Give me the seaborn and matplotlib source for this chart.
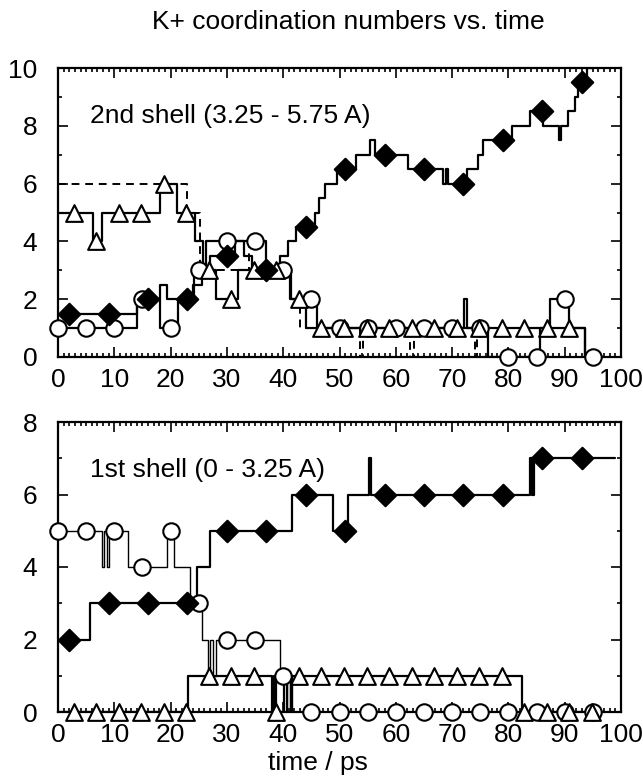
import numpy as np
import pandas as pd
import matplotlib
matplotlib.use("Agg")
import matplotlib.pyplot as plt
import seaborn as sns
from matplotlib.ticker import MultipleLocator

sns.set_theme(style="ticks")
plt.rcParams['font.family'] = ['Liberation Sans', 'DejaVu Sans']
plt.rcParams['text.color'] = 'black'
plt.rcParams['axes.labelcolor'] = 'black'
plt.rcParams['xtick.color'] = 'black'
plt.rcParams['ytick.color'] = 'black'

# ---------------- 2nd shell (top panel) ----------------
top_dia_t = [0, 14, 18.1, 19.3, 24, 25.5, 27, 31.5, 33, 34.5, 39.4, 40.8, 42.3, 45.6, 46.3, 47.5, 49.5, 53,
             55.4, 56.3, 62.2, 68.4, 68.9, 69.3, 72.6, 74.6, 75.5, 80.6, 83.8, 86.2, 89, 89.4, 90.6, 91.8,
             92.4, 94, 95]
top_dia_v = [1.5, 2, 2.5, 2, 2.5, 3, 3.5, 4, 3.5, 3, 3.5, 4, 4.5, 5, 5.5, 6, 6.5, 7,
             7.5, 7, 6.5, 6, 6.5, 6, 6.5, 7, 7.5, 8, 8.5, 8, 7.5, 8, 8.5, 9,
             9.5, 10, 10]
top_circ_t = [0, 14, 18.1, 21.4, 24.1, 26.2, 37, 41.4, 46, 72.2, 72.6, 76.4, 85.6, 87.4, 90.7, 93.6, 97]
top_circ_v = [1, 2, 1, 2, 3, 4, 3, 2, 1, 2, 1, 0, 1, 2, 1, 0, 0]
top_tri_t = [0, 6.3, 7.8, 18.1, 21.1, 24.3, 25.8, 28, 32, 41.2, 44, 93.6, 97]
top_tri_v = [5, 4, 5, 6, 5, 4, 3, 2, 3, 2, 1, 0, 0]
top_dash_t = [0, 23, 25.2, 34, 37, 41.2, 43, 53.6, 54.2, 62.6, 63.2, 74, 74.5, 76.4, 80]
top_dash_v = [6, 5, 3, 4, 3, 2, 1, 0, 1, 0, 1, 0, 1, 0, 0]

# marker samples
dia_mark_t = [2, 9, 16, 23, 30, 37, 44, 51, 58, 65, 72, 79, 86, 93]
top_dia_mark_v = [1.5, 1.5, 2, 2, 3.5, 3, 4.5, 6.5, 7, 6.5, 6, 7.5, 8.5, 9.5]
circ_mark_t = [0, 5, 10, 15, 20, 25, 30, 35, 40, 45, 50, 55, 60, 65, 70, 75, 80, 85, 90, 95]
top_circ_mark_v = [1, 1, 1, 2, 1, 3, 4, 4, 3, 2, 1, 1, 1, 1, 1, 1, 0, 0, 2, 0]
top_tri_mark_t = [2.8, 6.8, 10.8, 14.8, 18.8, 22.8, 26.8, 30.8, 34.8, 38.8, 42.8, 46.8,
                  50.8, 54.8, 58.8, 62.8, 66.8, 70.8, 74.8, 78.8, 82.8, 86.8, 90.8]
top_tri_mark_v = [5, 4, 5, 5, 6, 5, 3, 2, 3, 3, 2, 1,
                  1, 1, 1, 1, 1, 1, 1, 1, 1, 1, 1]

# ---------------- 1st shell (bottom panel) ----------------
bot_dia_t = [0, 5.7, 24.7, 27, 41.5, 48.9, 51.5, 55.2, 55.6, 83.8, 84.2, 84.6, 99]
bot_dia_v = [2, 3, 4, 5, 6, 5, 6, 7, 6, 7, 6, 7, 7]
bot_circ_t = [0, 7.8, 8.2, 8.7, 9.1, 12.4, 19.3, 20.6, 23.4, 25.5, 26.6, 27.0, 27.6, 28.1,
              39.4, 40.6, 41.2, 41.6, 97]
bot_circ_v = [5, 4, 5, 4, 5, 4, 5, 4, 3, 2, 1, 2, 1, 2,
              1, 0, 1, 0, 0]
bot_tri_t = [0, 23.1, 38.0, 38.4, 38.7, 40.2, 40.6, 41.3, 82.4, 97]
bot_tri_v = [0, 1, 0, 1, 0, 1, 0, 1, 0, 0]

bot_dia_mark_v = [2, 3, 3, 3, 5, 5, 6, 5, 6, 6, 6, 6, 7, 7]
bot_circ_mark_v = [5, 5, 5, 4, 5, 3, 2, 2, 1, 0, 0, 0, 0, 0, 0, 0, 0, 0, 0, 0]
bot_tri_mark_t = [2.8, 6.8, 10.8, 14.8, 18.8, 22.8, 26.8, 30.8, 34.8, 38.8, 42.8, 46.8,
                  50.8, 54.8, 58.8, 62.8, 66.8, 70.8, 74.8, 78.8, 82.8, 86.8, 90.8, 94.8]
bot_tri_mark_v = [0, 0, 0, 0, 0, 0, 1, 1, 1, 0, 1, 1,
                  1, 1, 1, 1, 1, 1, 1, 1, 0, 0, 0, 0]

title = "K+ coordination numbers vs. time"
top_label = "2nd shell (3.25 - 5.75 A)"
bot_label = "1st shell (0 - 3.25 A)"
xlabel = "time / ps"

FS = 19
W, H = 643, 781
fig = plt.figure(figsize=(W / 100, H / 100), dpi=100)
ax1 = fig.add_axes([58 / W, 1 - 357 / H, (621 - 58) / W, (357 - 68) / H])
ax2 = fig.add_axes([58 / W, 1 - 712 / H, (621 - 58) / W, (712 - 422) / H])


def step(ax, t, v, lw=1.6, ls='-'):
    sns.lineplot(x=t, y=v, ax=ax, drawstyle='steps-post', estimator=None, sort=False,
                 color='black', linewidth=lw, linestyle=ls, zorder=2)


def marks(ax, t, v, marker, s, face):
    sns.scatterplot(x=t, y=v, ax=ax, marker=marker, s=s, facecolor=face,
                    edgecolor='black', linewidth=1.5, zorder=4, clip_on=False)


# top
step(ax1, top_dash_t, top_dash_v, lw=1.4, ls=(0, (4, 3)))
step(ax1, top_circ_t, top_circ_v)
step(ax1, top_tri_t, top_tri_v)
step(ax1, top_dia_t, top_dia_v)
marks(ax1, circ_mark_t, top_circ_mark_v, 'o', 140, 'white')
marks(ax1, top_tri_mark_t, top_tri_mark_v, '^', 145, 'white')
marks(ax1, dia_mark_t, top_dia_mark_v, 'D', 120, 'black')

# bottom
step(ax2, bot_circ_t, bot_circ_v, lw=1.0)
step(ax2, bot_tri_t, bot_tri_v)
step(ax2, bot_dia_t, bot_dia_v)
marks(ax2, circ_mark_t, bot_circ_mark_v, 'o', 140, 'white')
marks(ax2, bot_tri_mark_t, bot_tri_mark_v, '^', 145, 'white')
marks(ax2, dia_mark_t, bot_dia_mark_v, 'D', 120, 'black')

for ax, ymax, lab in [(ax1, 10, top_label), (ax2, 8, bot_label)]:
    ax.set_xlim(0, 100)
    ax.set_ylim(0, ymax)
    ax.xaxis.set_major_locator(MultipleLocator(10))
    ax.xaxis.set_minor_locator(MultipleLocator(1))
    ax.yaxis.set_major_locator(MultipleLocator(2))
    ax.yaxis.set_minor_locator(MultipleLocator(1))
    ax.tick_params(which='both', direction='in', top=True, right=True, width=1.2,
                   labelsize=FS, colors='black')
    ax.tick_params(which='major', length=7)
    ax.tick_params(axis='x', which='major', pad=8)
    ax.tick_params(axis='y', which='major', pad=15)
    ax.tick_params(which='minor', length=3)
    for sp in ax.spines.values():
        sp.set_linewidth(1.6)
        sp.set_color('black')
    ax.set_xlabel('')
    ax.set_ylabel('')
    ax.text(0.057, 0.835, lab, transform=ax.transAxes, fontsize=FS, ha='left', va='center',
            color='black')

fig.text(348.5 / W, 1 - 22 / H, title, fontsize=FS, ha='center', va='center', color='black')
fig.text(318 / W, 1 - 763 / H, xlabel, fontsize=FS, ha='center', va='center', color='black')

fig.savefig('out.png', dpi=100, facecolor='white')
